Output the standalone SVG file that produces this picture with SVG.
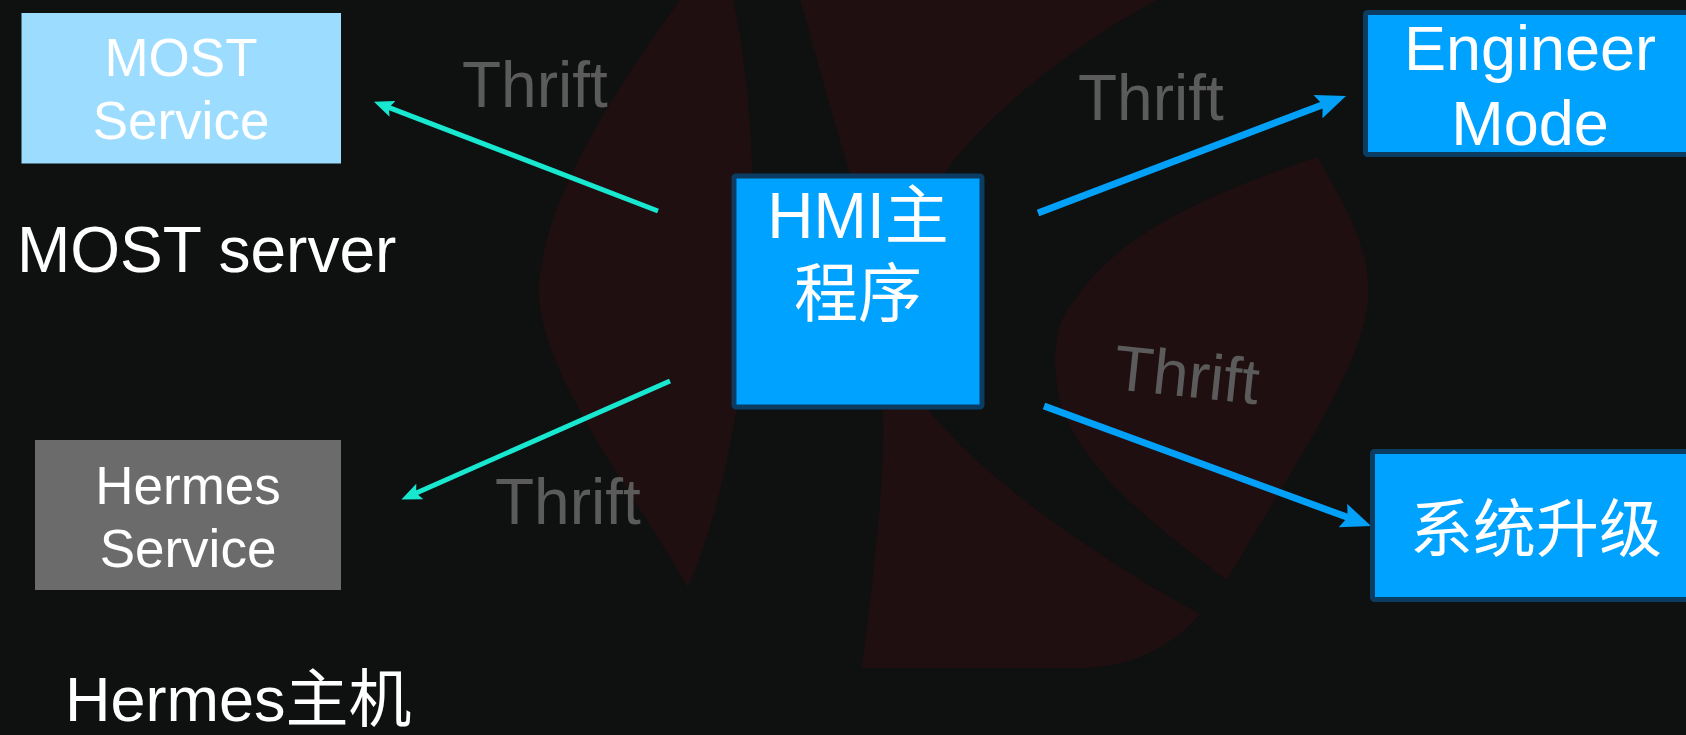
<svg xmlns="http://www.w3.org/2000/svg" width="1686" height="735" viewBox="0 0 1686 735">
<style>
.bg{fill:#1f0f11}
.lbl{font-family:"Liberation Sans","Noto Sans CJK SC",sans-serif;fill:#ffffff}
.thr{font-family:"Liberation Sans",Arial,sans-serif;fill:#5b5b5b;font-size:64px}
.blue{fill:#00a2ff;stroke:#0b3d63;stroke-width:5}
.teal{stroke:#19e8d0;stroke-width:5;fill:none}
.bl{stroke:#03a0f8;stroke-width:7;fill:none}
</style>
<defs>
<marker id="ahTeal" markerUnits="userSpaceOnUse" markerWidth="20" markerHeight="17" refX="10" refY="8.5" orient="auto" viewBox="0 0 20 17">
<path d="M0,0 L20,8.5 L0,17 L4,8.5 Z" fill="#19e8d0"/>
</marker>
<marker id="ahBlue" markerUnits="userSpaceOnUse" markerWidth="30" markerHeight="25" refX="15" refY="12.5" orient="auto" viewBox="0 0 30 25">
<path d="M0,0 L30,12.5 L0,25 L5,12.5 Z" fill="#03a0f8"/>
</marker>
</defs>
<rect x="0" y="0" width="1686" height="735" fill="#0f1010"/>
<g id="background">
<path class="bg" d="M680,0 C630,70 545,190 539,286 C535,370 640,500 688,588 C725,500 758,350 752,164 C750,100 742,40 733,0 Z"/>
<path class="bg" d="M800,0 L1157,0 C1090,35 995,105 947,169 C900,240 880,340 930,412 C985,480 1100,560 1200,614 C1170,650 1125,668 1080,668 L862,668 C870,600 886,480 883,412 C880,300 865,210 850,173 C830,110 815,50 800,0 Z"/>
<path class="bg" d="M1317,157 C1345,205 1372,250 1368,300 C1362,370 1290,470 1227,580 C1160,530 1080,470 1060,400 C1050,360 1055,320 1075,300 C1120,230 1220,190 1317,157 Z"/>
</g>
<g id="connectors">
<line class="teal" x1="658" y1="211" x2="383.3" y2="105.3" marker-end="url(#ahTeal)"/>
<line class="teal" x1="670" y1="381" x2="410.6" y2="495.5" marker-end="url(#ahTeal)"/>
<line class="bl" x1="1038" y1="213" x2="1332" y2="101.3" marker-end="url(#ahBlue)"/>
<line class="bl" x1="1044" y1="406" x2="1357" y2="520.8" marker-end="url(#ahBlue)"/>
<text class="thr" x="462" y="107">Thrift</text>
<text class="thr" x="1078" y="120">Thrift</text>
<text class="thr" x="1112" y="389" transform="rotate(6 1112 389)">Thrift</text>
<text class="thr" x="495" y="524">Thrift</text>
</g>
<g id="most-service">
<rect x="21.5" y="13" width="319.5" height="150.5" fill="#9cdcfe"/>
<text class="lbl" x="181" y="76" font-size="53" text-anchor="middle">MOST</text>
<text class="lbl" x="181" y="139" font-size="53" text-anchor="middle">Service</text>
</g>
<g id="most-server">
<text class="lbl" x="17" y="272" font-size="64">MOST server</text>
</g>
<g id="hermes-service">
<rect x="35" y="440" width="306" height="150" fill="#6b6b6b"/>
<text class="lbl" x="188" y="504" font-size="53" text-anchor="middle">Hermes</text>
<text class="lbl" x="188" y="567" font-size="53" text-anchor="middle">Service</text>
</g>
<g id="hermes-host">
<text class="lbl" x="65" y="721" font-size="63">Hermes主机</text>
</g>
<g id="hmi">
<rect class="blue" x="734" y="176" width="248" height="231" rx="2"/>
<text class="lbl" x="858" y="238" font-size="64" text-anchor="middle">HMI主</text>
<text class="lbl" x="858" y="316" font-size="64" text-anchor="middle">程序</text>
</g>
<g id="engineer-mode">
<rect class="blue" x="1365.5" y="12.5" width="340" height="142" rx="2"/>
<text class="lbl" x="1530" y="70" font-size="63" text-anchor="middle">Engineer</text>
<text class="lbl" x="1530" y="145" font-size="63" text-anchor="middle">Mode</text>
</g>
<g id="system-upgrade">
<rect class="blue" x="1372.5" y="451.5" width="340" height="148" rx="2"/>
<text class="lbl" x="1536" y="551" font-size="63" text-anchor="middle">系统升级</text>
</g>
</svg>
